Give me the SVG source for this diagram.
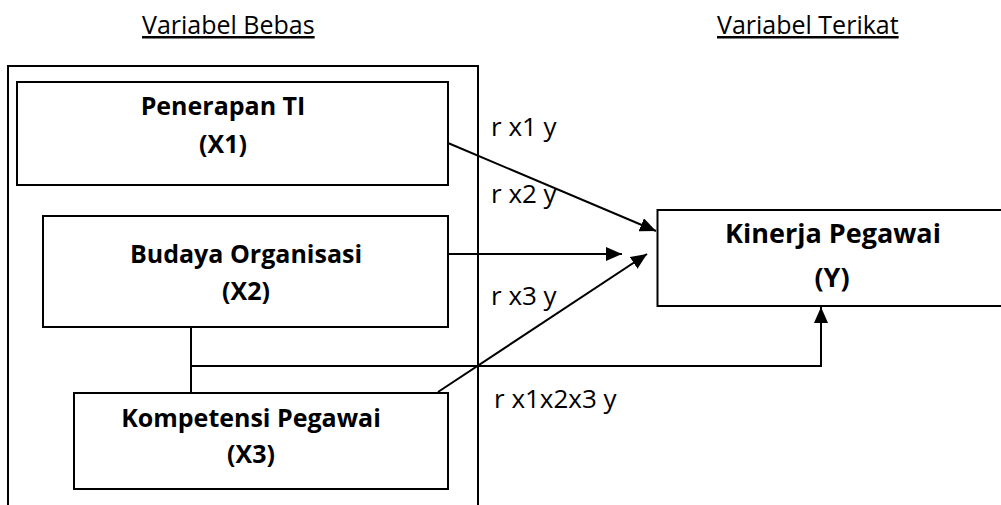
<svg xmlns="http://www.w3.org/2000/svg" width="1001" height="505" viewBox="0 0 1001 505">
<style>
.box{fill:#fff;stroke:#000;stroke-width:2}
.frame{fill:none;stroke:#000;stroke-width:2}
.conn{fill:none;stroke:#000;stroke-width:2}
.t{font-family:"Open Sans","Liberation Sans",sans-serif;fill:#000}
.b{font-weight:bold;font-size:25px;text-anchor:middle}
.by{font-size:27px}
.lbl{font-size:26px}
.hdr{font-size:25px;text-decoration:underline}
</style>
<defs>
<marker id="ah" markerUnits="userSpaceOnUse" markerWidth="18" markerHeight="14" refX="16" refY="7" orient="auto">
<path d="M0,0 L16,7 L0,14 Z" fill="#000"/>
</marker>
</defs>
<rect width="1001" height="505" fill="#fff"/>
<g id="headers">
<text class="t hdr" x="142" y="34">Variabel Bebas</text>
<text class="t hdr" x="717" y="34">Variabel Terikat</text>
</g>
<rect id="frame" class="frame" x="8" y="66" width="470" height="460"/>
<g id="x1">
<rect class="box" x="17" y="82" width="431" height="103"/>
<text class="t b" x="223" y="115">Penerapan TI</text>
<text class="t b" x="223" y="153">(X1)</text>
</g>
<g id="x2">
<rect class="box" x="43" y="216" width="405" height="111"/>
<text class="t b" x="246" y="263">Budaya Organisasi</text>
<text class="t b" x="246" y="300">(X2)</text>
</g>
<g id="x3">
<rect class="box" x="74" y="393" width="374" height="96"/>
<text class="t b" x="251" y="427">Kompetensi Pegawai</text>
<text class="t b" x="251" y="463">(X3)</text>
</g>
<g id="y">
<rect class="box" x="657.5" y="210" width="360" height="96"/>
<text class="t b by" x="833" y="243">Kinerja Pegawai</text>
<text class="t b by" x="832" y="287">(Y)</text>
</g>
<g id="connectors">
<line class="conn" x1="448" y1="143" x2="656" y2="231" marker-end="url(#ah)"/>
<line class="conn" x1="448" y1="254" x2="622" y2="254" marker-end="url(#ah)"/>
<line class="conn" x1="438" y1="392" x2="647" y2="254" marker-end="url(#ah)"/>
<line class="conn" x1="191" y1="327" x2="191" y2="393"/>
<polyline class="conn" points="191,366 821,366 821,307" marker-end="url(#ah)"/>
</g>
<g id="labels">
<text class="t lbl" x="491" y="136">r x1 y</text>
<text class="t lbl" x="491" y="203">r x2 y</text>
<text class="t lbl" x="491" y="305">r x3 y</text>
<text class="t lbl" x="494" y="408">r x1x2x3 y</text>
</g>
</svg>
